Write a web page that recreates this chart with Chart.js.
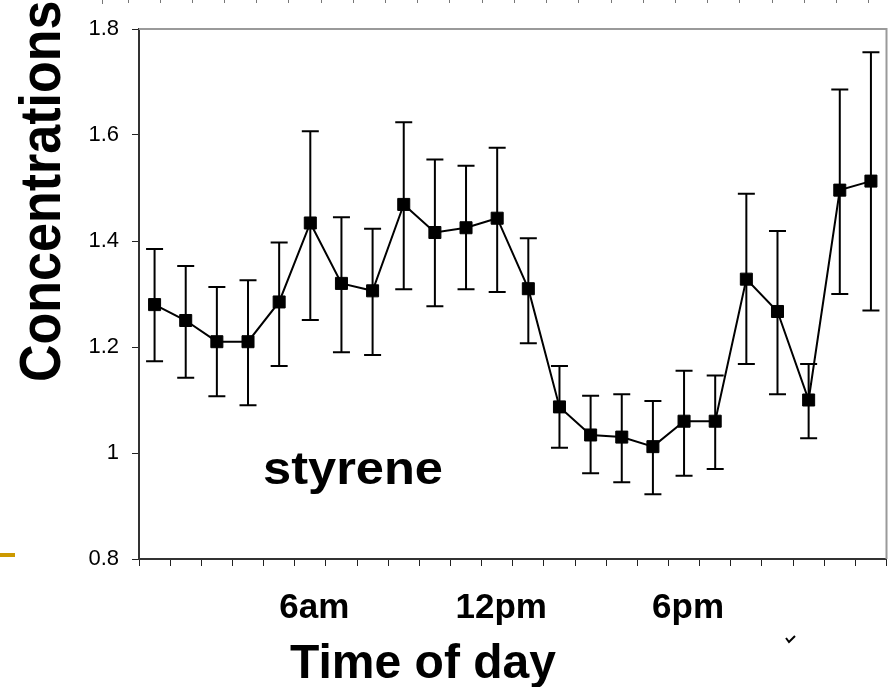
<!DOCTYPE html>
<html>
<head>
<meta charset="utf-8">
<script src="https://cdn.jsdelivr.net/npm/chart.js@4.4.1/dist/chart.umd.min.js"></script>
<style>
    html, body { margin: 0; padding: 0; background: #fff; }
    #wrap { width: 896px; height: 687px; }
</style>
</head>
<body>
<div id="wrap"><canvas id="myChart" width="896" height="687"></canvas></div>
<script>
// hour of day (1..24), only three get a label
const hours = ['1', '2', '3', '4', '5', '6', '7', '8', '9', '10', '11', '12',
               '13', '14', '15', '16', '17', '18', '19', '20', '21', '22', '23', '24'];
const tickLabels = ['', '', '', '', '', '6am', '', '', '', '', '', '12pm',
                    '', '', '', '', '', '6pm', '', '', '', '', '', ''];

const means = [1.28, 1.25, 1.21, 1.21, 1.285, 1.434, 1.32, 1.306, 1.469, 1.416, 1.425, 1.443,
               1.31, 1.087, 1.034, 1.03, 1.012, 1.06, 1.06, 1.328, 1.267, 1.10, 1.496, 1.513];
const upper = [1.385, 1.353, 1.313, 1.326, 1.397, 1.607, 1.445, 1.423, 1.624, 1.554, 1.542, 1.576,
               1.405, 1.164, 1.108, 1.111, 1.098, 1.155, 1.146, 1.489, 1.419, 1.168, 1.686, 1.756];
const lower = [1.173, 1.142, 1.107, 1.09, 1.164, 1.251, 1.19, 1.185, 1.309, 1.277, 1.309, 1.304,
               1.207, 1.01, 0.962, 0.945, 0.922, 0.957, 0.97, 1.168, 1.111, 1.028, 1.30, 1.269];

const yTicks = [0.8, 1, 1.2, 1.4, 1.6, 1.8];

const FONT = "'Liberation Sans', Arial, sans-serif";

// error bars, drawn under the markers
const errorBars = {
    id: 'errorBars',
    beforeDatasetsDraw(chart) {
        const c = chart.ctx;
        const xs = chart.scales.x;
        const ys = chart.scales.y;
        c.save();
        c.strokeStyle = '#000';
        c.lineWidth = 2;
        means.forEach((m, i) => {
            const x = xs.getPixelForValue(i);
            const yt = ys.getPixelForValue(upper[i]);
            const yb = ys.getPixelForValue(lower[i]);
            c.beginPath();
            c.moveTo(x, yt);
            c.lineTo(x, yb);
            c.moveTo(x - 8.5, yt);
            c.lineTo(x + 8.5, yt);
            c.moveTo(x - 8.5, yb);
            c.lineTo(x + 8.5, yb);
            c.stroke();
        });
        c.restore();
    }
};

// frame, titles and slide leftovers
const extras = {
    id: 'extras',
    afterDraw(chart) {
        const c = chart.ctx;
        const a = chart.chartArea;
        c.save();

        // grey top and right border
        c.strokeStyle = '#9a9a9a';
        c.lineWidth = 2;
        c.beginPath();
        c.moveTo(a.left, a.top);
        c.lineTo(a.right, a.top);
        c.lineTo(a.right, a.bottom);
        c.stroke();

        c.fillStyle = '#000';

        // y title
        c.save();
        c.translate(60, 382);
        c.rotate(-Math.PI / 2);
        c.scale(1, 1.1);
        c.font = 'bold 52px ' + FONT;
        c.textAlign = 'left';
        c.textBaseline = 'alphabetic';
        c.fillText('Concentrations', 0, 0);
        c.restore();

        // x title
        c.font = 'bold 48px ' + FONT;
        c.textAlign = 'center';
        c.textBaseline = 'alphabetic';
        c.fillText('Time of day', 423, 678);

        // compound name
        c.save();
        c.translate(263, 484);
        c.scale(1.1, 1);
        c.font = 'bold 46px ' + FONT;
        c.textAlign = 'left';
        c.fillText('styrene', 0, 0);
        c.restore();

        // gold bullet bar at the left edge
        c.fillStyle = '#cc9900';
        c.fillRect(0, 553, 15, 4);

        // tick row of a cut-off axis along the top edge
        c.strokeStyle = '#777';
        c.lineWidth = 1;
        c.beginPath();
        c.moveTo(102.5, 0);
        c.lineTo(102.5, 4);
        for (let x = 127.5; x < 896; x += 32.2) {
            c.moveTo(Math.round(x) + 0.5, 0);
            c.lineTo(Math.round(x) + 0.5, 3);
        }
        c.stroke();

        // small tick mark
        c.strokeStyle = '#000';
        c.lineWidth = 2;
        c.beginPath();
        c.moveTo(786, 638);
        c.lineTo(789, 642);
        c.lineTo(795, 636);
        c.stroke();

        c.restore();
    }
};

const ctx = document.getElementById('myChart');

new Chart(ctx, {
    type: 'line',
    data: {
        labels: hours,
        datasets: [{
            label: 'styrene',
            data: means,
            borderColor: '#000',
            backgroundColor: '#000',
            borderWidth: 2,
            tension: 0,
            fill: false,
            pointStyle: 'rect',
            pointRadius: 8.5,
            pointBorderWidth: 1,
            pointBackgroundColor: '#000',
            pointBorderColor: '#000'
        }]
    },
    options: {
        responsive: false,
        animation: false,
        devicePixelRatio: 1,
        layout: {
            padding: { left: 0, right: 8, top: 29, bottom: 0 }
        },
        scales: {
            x: {
                type: 'category',
                offset: true,
                grid: {
                    offset: true,
                    drawOnChartArea: false,
                    tickLength: 7,
                    color: '#222',
                    lineWidth: 1
                },
                border: { color: '#333', width: 2 },
                ticks: {
                    autoSkip: false,
                    maxRotation: 0,
                    minRotation: 0,
                    padding: 21,
                    labelOffset: 4,
                    color: '#000',
                    font: { family: FONT, size: 35, weight: 'bold' },
                    callback: (v, i) => tickLabels[i]
                },
                afterFit: scale => { scale.height = 128; }
            },
            y: {
                min: 0.8,
                max: 1.8,
                afterBuildTicks: scale => {
                    scale.ticks = yTicks.map(v => ({ value: v }));
                },
                grid: {
                    drawOnChartArea: false,
                    tickLength: 7,
                    color: '#222',
                    lineWidth: 1
                },
                border: { color: '#333', width: 2 },
                ticks: {
                    padding: 13,
                    color: '#000',
                    font: { family: FONT, size: 22 },
                    callback: v => String(v)
                },
                afterFit: scale => { scale.width = 139; }
            }
        },
        plugins: {
            legend: { display: false },
            tooltip: { enabled: false }
        }
    },
    plugins: [errorBars, extras]
});
</script>
</body>
</html>
